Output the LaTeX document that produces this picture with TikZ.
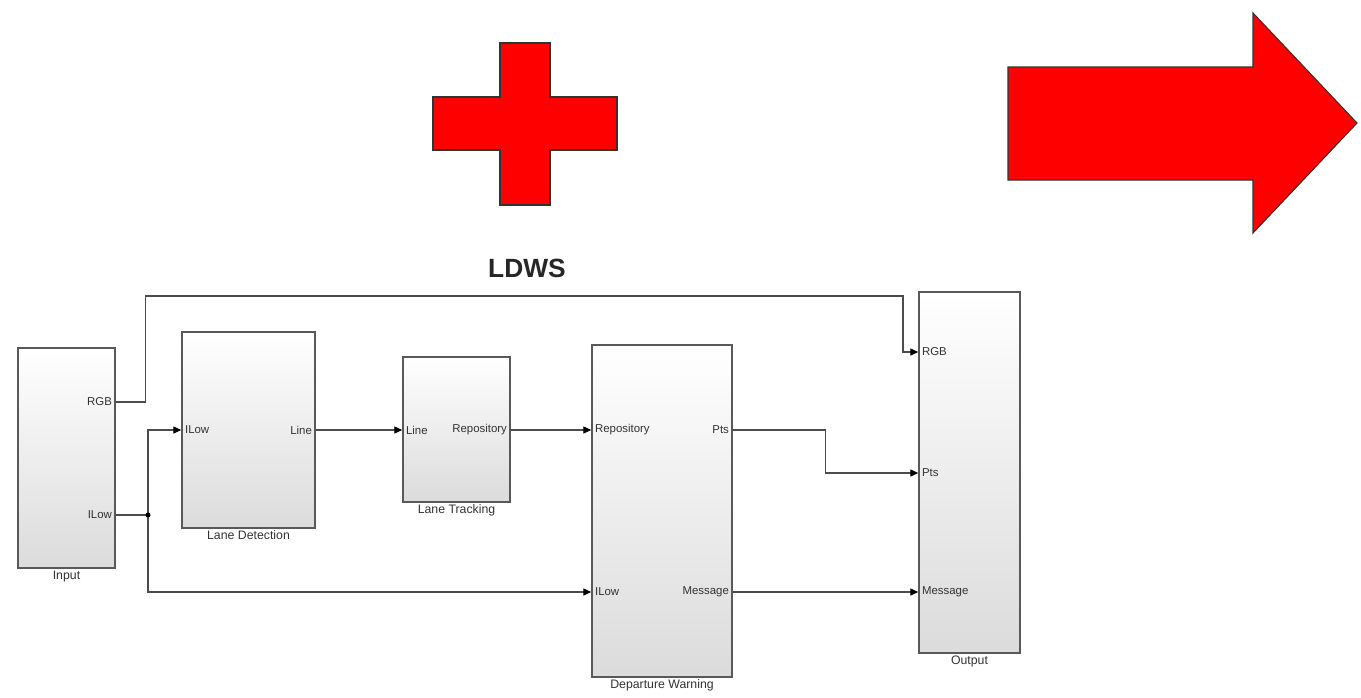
\documentclass[tikz,border=0pt]{standalone}
\usepackage{fontspec}
\setmainfont{Liberation Sans}
\usetikzlibrary{arrows.meta,shadows}
\begin{document}
\begin{tikzpicture}[x=0.02cm, y=-0.02cm,
    block/.style={draw=gray!70!black, line width=0.9pt, top color=white,
      middle color=white, bottom color=gray!28, inner sep=0pt,
      drop shadow={shadow xshift=0.7pt, shadow yshift=-0.7pt, fill=gray!55, opacity=1}},
    every label/.style={font=\fontsize{7}{8}\selectfont, text=black!80, inner sep=1pt},
    port/.style={font=\fontsize{6.5}{7}\selectfont, text=black!80, inner sep=2pt},
    wire/.style={draw=black!70, line width=0.6pt},
    sig/.style={wire, -{Triangle[length=4.5pt, width=4pt, color=black]}},
    redshape/.style={fill=red, draw=black!80, line width=0.6pt, line join=miter}]
    \useasboundingbox (0,0) rectangle (1361,697);

    % red symbols
    \draw[redshape] (500,43) -- (550,43) -- (550,97) -- (617,97) -- (617,150)
        -- (550,150) -- (550,205) -- (500,205) -- (500,150) -- (433,150)
        -- (433,97) -- (500,97) -- cycle;
    \draw[redshape] (1008,67) -- (1253,67) -- (1253,13) -- (1357,123)
        -- (1253,233) -- (1253,180) -- (1008,180) -- cycle;
    \node[font=\bfseries\fontsize{15}{18}\selectfont, text=black!85] (title) at (527,268) {LDWS};

    % blocks
    \node[block, minimum width=1.94cm, minimum height=4.4cm, label=below:Input] (input) at (66.5,458) {};
    \node[block, minimum width=2.66cm, minimum height=3.92cm, label=below:Lane Detection] (detect) at (248.5,430) {};
    \node[block, minimum width=2.14cm, minimum height=2.9cm, label=below:Lane Tracking] (track) at (456.5,429.5) {};
    \node[block, minimum width=2.8cm, minimum height=6.64cm, label=below:Departure Warning] (warn) at (662,511) {};
    \node[block, minimum width=2.02cm, minimum height=7.22cm, label=below:Output] (output) at (969.5,472.5) {};

    % ports
    \coordinate (input-rgb) at (input.east |- 0,402);
    \coordinate (input-ilow) at (input.east |- 0,515);
    \coordinate (detect-ilow) at (detect.west |- 0,430);
    \coordinate (detect-line) at (detect.east |- 0,430);
    \coordinate (track-line) at (track.west |- 0,430);
    \coordinate (track-rep) at (track.east |- 0,430);
    \coordinate (warn-rep) at (warn.west |- 0,430);
    \coordinate (warn-pts) at (warn.east |- 0,430);
    \coordinate (warn-ilow) at (warn.west |- 0,592);
    \coordinate (warn-msg) at (warn.east |- 0,592);
    \coordinate (output-rgb) at (output.west |- 0,352);
    \coordinate (output-pts) at (output.west |- 0,473);
    \coordinate (output-msg) at (output.west |- 0,592);
    \coordinate (split) at (148,515);

    \foreach \p/\a/\t in {input-rgb/east/RGB, input-ilow/east/ILow,
        detect-ilow/west/ILow, detect-line/east/Line,
        track-line/west/Line, track-rep/east/Repository,
        warn-rep/west/Repository, warn-pts/east/Pts,
        warn-ilow/west/ILow, warn-msg/east/Message,
        output-rgb/west/RGB, output-pts/west/Pts, output-msg/west/Message}
        \node[port, anchor=\a] (\p-text) at (\p) {\t};

    % signals
    \draw[sig] (input-rgb) -- ++(30,0) |- (903,296) |- (output-rgb);
    \draw[wire] (input-ilow) -- (split);
    \draw[sig] (split) |- (detect-ilow);
    \draw[sig] (split) |- (warn-ilow);
    \fill[black] (split) circle (2.5);
    \draw[sig] (detect-line) -- (track-line);
    \draw[sig] (track-rep) -- (warn-rep);
    \draw[sig] (warn-pts) -- ++(93,0) |- (output-pts);
    \draw[sig] (warn-msg) -- (output-msg);
\end{tikzpicture}
\end{document}
